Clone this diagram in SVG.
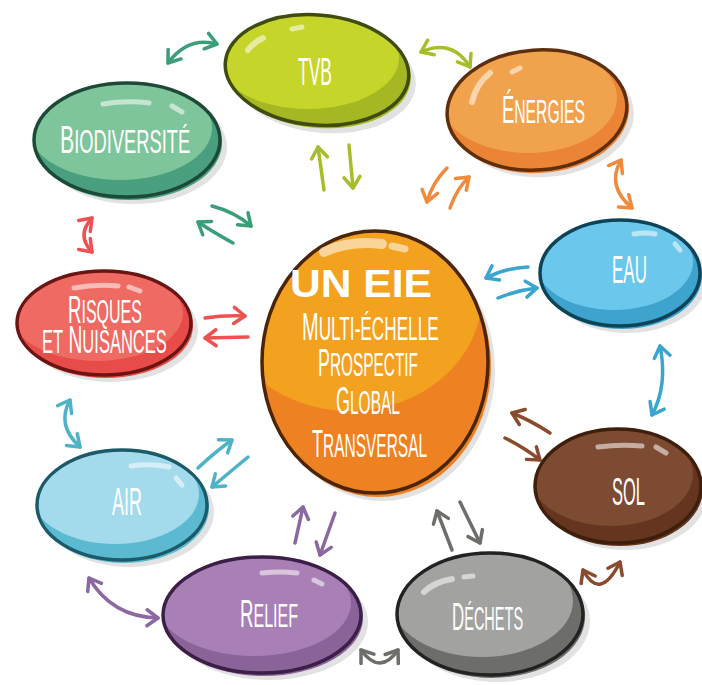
<svg xmlns="http://www.w3.org/2000/svg" width="702" height="685" viewBox="0 0 702 685">
<style>
.shadow{fill:#e2e2e2}
.ol{fill:none;stroke-width:3.5}
.hl{fill:none;stroke:#fff;stroke-opacity:0.55;stroke-linecap:round}
.lbs{font-family:"Liberation Sans",Arial,sans-serif;font-size:39px;fill:#fff;text-anchor:start}
.ml{font-size:38px}
.sc{font-size:0.86em;text-transform:uppercase}
.big{font-family:"Liberation Sans",Arial,sans-serif;font-weight:bold;font-size:38px;fill:#fff;text-anchor:start}
.c{fill:none;stroke-width:3.5;stroke-linecap:round;stroke-linejoin:round}
</style>
<defs>
<marker id="mG" viewBox="-14 -12 18 24" markerWidth="18" markerHeight="24" refX="0" refY="0" markerUnits="userSpaceOnUse" orient="auto-start-reverse" overflow="visible"><path d="M-11,-8 L0,0 L-11,8" fill="none" stroke="#3a9e78" stroke-width="3.5" stroke-linecap="round" stroke-linejoin="round"/></marker>
<marker id="mY" viewBox="-14 -12 18 24" markerWidth="18" markerHeight="24" refX="0" refY="0" markerUnits="userSpaceOnUse" orient="auto-start-reverse" overflow="visible"><path d="M-11,-8 L0,0 L-11,8" fill="none" stroke="#a5bf2a" stroke-width="3.5" stroke-linecap="round" stroke-linejoin="round"/></marker>
<marker id="mO" viewBox="-14 -12 18 24" markerWidth="18" markerHeight="24" refX="0" refY="0" markerUnits="userSpaceOnUse" orient="auto-start-reverse" overflow="visible"><path d="M-11,-8 L0,0 L-11,8" fill="none" stroke="#f08a3c" stroke-width="3.5" stroke-linecap="round" stroke-linejoin="round"/></marker>
<marker id="mB" viewBox="-14 -12 18 24" markerWidth="18" markerHeight="24" refX="0" refY="0" markerUnits="userSpaceOnUse" orient="auto-start-reverse" overflow="visible"><path d="M-11,-8 L0,0 L-11,8" fill="none" stroke="#3aa6cf" stroke-width="3.5" stroke-linecap="round" stroke-linejoin="round"/></marker>
<marker id="mN" viewBox="-14 -12 18 24" markerWidth="18" markerHeight="24" refX="0" refY="0" markerUnits="userSpaceOnUse" orient="auto-start-reverse" overflow="visible"><path d="M-11,-8 L0,0 L-11,8" fill="none" stroke="#8a4a2e" stroke-width="3.5" stroke-linecap="round" stroke-linejoin="round"/></marker>
<marker id="mK" viewBox="-14 -12 18 24" markerWidth="18" markerHeight="24" refX="0" refY="0" markerUnits="userSpaceOnUse" orient="auto-start-reverse" overflow="visible"><path d="M-11,-8 L0,0 L-11,8" fill="none" stroke="#6d6d69" stroke-width="3.5" stroke-linecap="round" stroke-linejoin="round"/></marker>
<marker id="mP" viewBox="-14 -12 18 24" markerWidth="18" markerHeight="24" refX="0" refY="0" markerUnits="userSpaceOnUse" orient="auto-start-reverse" overflow="visible"><path d="M-11,-8 L0,0 L-11,8" fill="none" stroke="#8b68a2" stroke-width="3.5" stroke-linecap="round" stroke-linejoin="round"/></marker>
<marker id="mL" viewBox="-14 -12 18 24" markerWidth="18" markerHeight="24" refX="0" refY="0" markerUnits="userSpaceOnUse" orient="auto-start-reverse" overflow="visible"><path d="M-11,-8 L0,0 L-11,8" fill="none" stroke="#4fb3c8" stroke-width="3.5" stroke-linecap="round" stroke-linejoin="round"/></marker>
<marker id="mR" viewBox="-14 -12 18 24" markerWidth="18" markerHeight="24" refX="0" refY="0" markerUnits="userSpaceOnUse" orient="auto-start-reverse" overflow="visible"><path d="M-11,-8 L0,0 L-11,8" fill="none" stroke="#ec5252" stroke-width="3.5" stroke-linecap="round" stroke-linejoin="round"/></marker>
<clipPath id="cTVB"><ellipse cx="317" cy="70" rx="92" ry="55" transform="rotate(5 317 70)"/></clipPath>
<clipPath id="cENE"><ellipse cx="537" cy="110" rx="90" ry="60" transform="rotate(-4 537 110)"/></clipPath>
<clipPath id="cEAU"><ellipse cx="620" cy="273" rx="80" ry="53"/></clipPath>
<clipPath id="cSOL"><ellipse cx="618" cy="486" rx="83" ry="57"/></clipPath>
<clipPath id="cDEC"><ellipse cx="490" cy="614" rx="93" ry="61"/></clipPath>
<clipPath id="cREL"><ellipse cx="262" cy="615" rx="99" ry="58"/></clipPath>
<clipPath id="cAIR"><ellipse cx="122" cy="505" rx="85" ry="55"/></clipPath>
<clipPath id="cRIS"><ellipse cx="104" cy="323" rx="87" ry="52"/></clipPath>
<clipPath id="cBIO"><ellipse cx="127" cy="140" rx="93" ry="57"/></clipPath>
<clipPath id="cCEN"><ellipse cx="375" cy="362" rx="113" ry="131"/></clipPath>
</defs>
<rect width="702" height="685" fill="#fff"/>

<g id="connectors" class="c">
<path d="M168,63 Q188,36 217,44" stroke="#3a9e78" marker-start="url(#mG)" marker-end="url(#mG)"/>
<path d="M212,206 Q235,212 251,226" stroke="#3a9e78" marker-end="url(#mG)"/>
<path d="M233,243 Q213,232 198,222" stroke="#3a9e78" marker-end="url(#mG)"/>
<path d="M421,52 Q452,38 470,67" stroke="#a5bf2a" marker-start="url(#mY)" marker-end="url(#mY)"/>
<path d="M324,190 L318,147" stroke="#a5bf2a" marker-end="url(#mY)"/>
<path d="M349,145 L353,188" stroke="#a5bf2a" marker-end="url(#mY)"/>
<path d="M447,168 Q432,183 427,202" stroke="#f08a3c" marker-end="url(#mO)"/>
<path d="M450,208 Q457,188 469,177" stroke="#f08a3c" marker-end="url(#mO)"/>
<path d="M621,160 Q606,186 632,208" stroke="#f08a3c" marker-start="url(#mO)" marker-end="url(#mO)"/>
<path d="M528,267 Q505,268 486,278" stroke="#3aa6cf" marker-end="url(#mB)"/>
<path d="M498,298 Q518,290 537,288" stroke="#3aa6cf" marker-end="url(#mB)"/>
<path d="M660,346 Q668,385 652,415" stroke="#3aa6cf" marker-start="url(#mB)" marker-end="url(#mB)"/>
<path d="M550,433 Q530,420 512,413" stroke="#8a4a2e" marker-end="url(#mN)"/>
<path d="M505,438 Q525,448 540,460" stroke="#8a4a2e" marker-end="url(#mN)"/>
<path d="M583,570 Q600,602 620,562" stroke="#8a4a2e" marker-start="url(#mN)" marker-end="url(#mN)"/>
<path d="M452,550 L437,511" stroke="#6d6d69" marker-end="url(#mK)"/>
<path d="M460,502 L480,543" stroke="#6d6d69" marker-end="url(#mK)"/>
<path d="M361,650 Q380,676 398,650" stroke="#6d6d69" marker-start="url(#mK)" marker-end="url(#mK)"/>
<path d="M295,543 L303,507" stroke="#8b68a2" marker-end="url(#mP)"/>
<path d="M335,513 L320,555" stroke="#8b68a2" marker-end="url(#mP)"/>
<path d="M89,578 Q112,617 158,618" stroke="#8b68a2" marker-start="url(#mP)" marker-end="url(#mP)"/>
<path d="M198,468 Q215,452 232,440" stroke="#4fb3c8" marker-end="url(#mL)"/>
<path d="M248,457 Q230,472 212,487" stroke="#4fb3c8" marker-end="url(#mL)"/>
<path d="M70,400 Q56,425 80,447" stroke="#4fb3c8" marker-start="url(#mL)" marker-end="url(#mL)"/>
<path d="M205,318 Q225,315 245,316" stroke="#ec5252" marker-end="url(#mR)"/>
<path d="M248,337 L205,338" stroke="#ec5252" marker-end="url(#mR)"/>
<path d="M92,218 Q76,235 92,252" stroke="#ec5252" marker-start="url(#mR)" marker-end="url(#mR)"/>
</g>

<g id="node-tvb">
<ellipse class="shadow" cx="324" cy="78" rx="92" ry="55" transform="rotate(5 324 78)"/>
<ellipse cx="319" cy="73" rx="92" ry="55" fill="#a5b823" transform="rotate(5 319 73)"/>
<ellipse cx="317" cy="70" rx="92" ry="55" fill="#a5b823" transform="rotate(5 317 70)"/>
<ellipse clip-path="url(#cTVB)" cx="308" cy="58" rx="91" ry="51" fill="#c6d52a"/>
<ellipse class="ol" cx="317" cy="70" rx="92" ry="55" stroke="#3f4c0e" transform="rotate(5 317 70)"/>
<path class="hl" d="M248,50 Q254,42 263,38" stroke-width="6"/>
<path class="hl" d="M292,29 L302,27" stroke-width="5"/>
<text class="lbs" transform="translate(298 85) scale(0.448 1)">TVB</text>
</g>

<g id="node-energies">
<ellipse class="shadow" cx="544" cy="117" rx="90" ry="60" transform="rotate(-4 544 117)"/>
<ellipse cx="539" cy="113" rx="90" ry="60" fill="#ec8436" transform="rotate(-4 539 113)"/>
<ellipse cx="537" cy="110" rx="90" ry="60" fill="#ec8436" transform="rotate(-4 537 110)"/>
<ellipse clip-path="url(#cENE)" cx="528" cy="98" rx="89" ry="55" fill="#f1a24c"/>
<ellipse class="ol" cx="537" cy="110" rx="90" ry="60" stroke="#5e2f0c" transform="rotate(-4 537 110)"/>
<path class="hl" d="M472,102 Q476,84 490,73" stroke-width="6"/>
<path class="hl" d="M512,72 L520,68" stroke-width="5"/>
<text class="lbs" transform="translate(502 123) scale(0.469 1)">É<tspan class="sc">nergies</tspan></text>
</g>

<g id="node-eau">
<ellipse class="shadow" cx="627" cy="280" rx="80" ry="53"/>
<ellipse cx="622" cy="276" rx="80" ry="53" fill="#3ea4cd"/>
<ellipse cx="620" cy="273" rx="80" ry="53" fill="#3ea4cd"/>
<ellipse clip-path="url(#cEAU)" cx="614" cy="262" rx="79" ry="48" fill="#6cc7ec"/>
<ellipse class="ol" cx="620" cy="273" rx="80" ry="53" stroke="#0d4458"/>
<path class="hl" d="M634,234 Q645,232 655,234" stroke-width="5"/>
<path class="hl" d="M675,244 L680,250" stroke-width="5"/>
<text class="lbs" transform="translate(612 283) scale(0.436 1)">EAU</text>
</g>

<g id="node-sol">
<ellipse class="shadow" cx="625" cy="493" rx="83" ry="57"/>
<ellipse cx="620" cy="489" rx="83" ry="57" fill="#65351f"/>
<ellipse cx="618" cy="486" rx="83" ry="57" fill="#65351f"/>
<ellipse clip-path="url(#cSOL)" cx="611" cy="474" rx="82" ry="52" fill="#7d4a32"/>
<ellipse class="ol" cx="618" cy="486" rx="83" ry="57" stroke="#3e1f0c"/>
<path class="hl" d="M598,447 Q620,444 642,446" stroke-width="5"/>
<path class="hl" d="M656,447 L666,453" stroke-width="5"/>
<text class="lbs" transform="translate(612 505) scale(0.423 1)">SOL</text>
</g>

<g id="node-dechets">
<ellipse class="shadow" cx="497" cy="621" rx="93" ry="61"/>
<ellipse cx="492" cy="617" rx="93" ry="61" fill="#6d6d69"/>
<ellipse cx="490" cy="614" rx="93" ry="61" fill="#6d6d69"/>
<ellipse clip-path="url(#cDEC)" cx="482" cy="601" rx="91" ry="56" fill="#a2a2a0"/>
<ellipse class="ol" cx="490" cy="614" rx="93" ry="61" stroke="#222"/>
<path class="hl" d="M424,592 Q434,582 452,579" stroke-width="6"/>
<path class="hl" d="M464,577 L473,576" stroke-width="5"/>
<text class="lbs" transform="translate(452 630) scale(0.433 1)">D<tspan class="sc">échets</tspan></text>
</g>

<g id="node-relief">
<ellipse class="shadow" cx="269" cy="622" rx="99" ry="58"/>
<ellipse cx="264" cy="618" rx="99" ry="58" fill="#8a6398"/>
<ellipse cx="262" cy="615" rx="99" ry="58" fill="#8a6398"/>
<ellipse clip-path="url(#cREL)" cx="254" cy="603" rx="97" ry="53" fill="#a980b5"/>
<ellipse class="ol" cx="262" cy="615" rx="99" ry="58" stroke="#3b1f47"/>
<path class="hl" d="M262,573 Q280,571 297,573" stroke-width="5"/>
<path class="hl" d="M314,580 L322,584" stroke-width="5"/>
<text class="lbs" transform="translate(240 627) scale(0.478 1)">R<tspan class="sc">elief</tspan></text>
</g>

<g id="node-air">
<ellipse class="shadow" cx="129" cy="512" rx="85" ry="55"/>
<ellipse cx="124" cy="508" rx="85" ry="55" fill="#5cbad0"/>
<ellipse cx="122" cy="505" rx="85" ry="55" fill="#5cbad0"/>
<ellipse clip-path="url(#cAIR)" cx="115" cy="494" rx="84" ry="50" fill="#a3dbec"/>
<ellipse class="ol" cx="122" cy="505" rx="85" ry="55" stroke="#1b5a68"/>
<path class="hl" d="M131,466 Q150,463 169,467" stroke-width="5"/>
<path class="hl" d="M176,478 L182,485" stroke-width="5"/>
<text class="lbs" transform="translate(112 515) scale(0.462 1)">AIR</text>
</g>

<g id="node-risques">
<ellipse class="shadow" cx="111" cy="330" rx="87" ry="52"/>
<ellipse cx="106" cy="326" rx="87" ry="52" fill="#e84c48"/>
<ellipse cx="104" cy="323" rx="87" ry="52" fill="#e84c48"/>
<ellipse clip-path="url(#cRIS)" cx="97" cy="313" rx="86" ry="48" fill="#ef6a63"/>
<ellipse class="ol" cx="104" cy="323" rx="87" ry="52" stroke="#6a1414"/>
<path class="hl" d="M74,288 Q96,284 118,286" stroke-width="5"/>
<path class="hl" d="M129,287 L140,291" stroke-width="5"/>
<text class="lbs ml" transform="translate(68 323) scale(0.49 1)">R<tspan class="sc">isques</tspan></text>
<text class="lbs ml" transform="translate(42 353) scale(0.506 1)"><tspan class="sc">et</tspan> N<tspan class="sc">uisances</tspan></text>
</g>

<g id="node-biodiversite">
<ellipse class="shadow" cx="134" cy="147" rx="93" ry="57"/>
<ellipse cx="129" cy="143" rx="93" ry="57" fill="#4aa07e"/>
<ellipse cx="127" cy="140" rx="93" ry="57" fill="#4aa07e"/>
<ellipse clip-path="url(#cBIO)" cx="120" cy="128" rx="92" ry="52" fill="#7fc59b"/>
<ellipse class="ol" cx="127" cy="140" rx="93" ry="57" stroke="#1d4a38"/>
<path class="hl" d="M103,104 Q126,100 149,103" stroke-width="5"/>
<path class="hl" d="M172,106 L182,112" stroke-width="5"/>
<text class="lbs" transform="translate(60 153) scale(0.546 1)">B<tspan class="sc">iodiversité</tspan></text>
</g>

<g id="node-center">
<ellipse class="shadow" cx="382" cy="370" rx="113" ry="131"/>
<ellipse cx="378" cy="366" rx="113" ry="131" fill="#ee8121"/>
<ellipse cx="375" cy="362" rx="113" ry="131" fill="#ee8121"/>
<ellipse clip-path="url(#cCEN)" cx="350" cy="295" rx="132" ry="116" fill="#f3a220"/>
<ellipse class="ol" cx="375" cy="362" rx="113" ry="131" stroke="#4a2508" stroke-width="4"/>
<path class="hl" d="M324,252 Q350,240 382,244" stroke-width="10"/>
<path class="hl" d="M392,246 L405,249" stroke-width="7"/>
<text class="big" transform="translate(290 297) scale(1.12 1)">UN EIE</text>
<text class="lbs ml" transform="translate(302 340) scale(0.526 1)">M<tspan class="sc">ulti-échelle</tspan></text>
<text class="lbs ml" transform="translate(318 376) scale(0.471 1)">P<tspan class="sc">rospectif</tspan></text>
<text class="lbs ml" transform="translate(336 414) scale(0.474 1)">G<tspan class="sc">lobal</tspan></text>
<text class="lbs ml" transform="translate(312 457) scale(0.474 1)">T<tspan class="sc">ransversal</tspan></text>
</g>
</svg>
